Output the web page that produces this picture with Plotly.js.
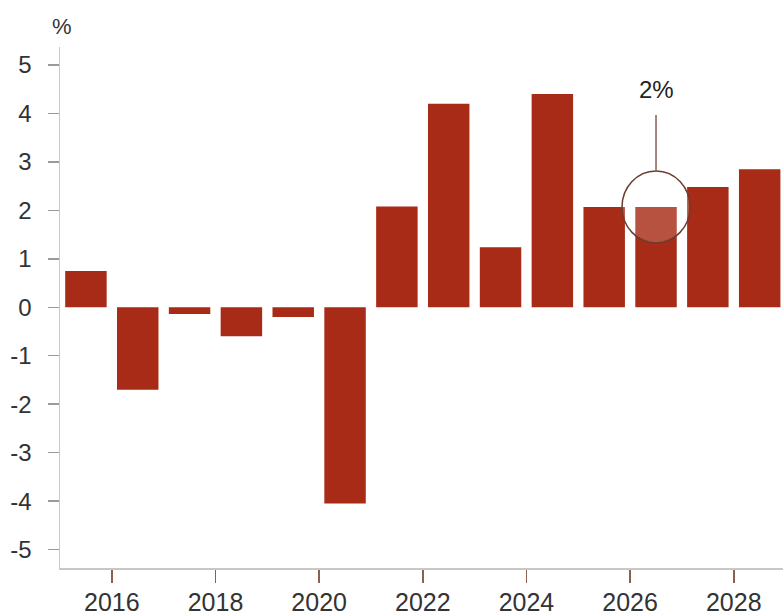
<!DOCTYPE html>
<html>
<head>
<meta charset="utf-8">
<script src="https://cdn.plot.ly/plotly-3.0.1.min.js"></script>
<style>html,body{margin:0;padding:0;background:#fff;}#chart{width:783px;height:616px;}</style>
</head>
<body>
<div id="chart"></div>
<script>
var years = [2015, 2016, 2017, 2018, 2019, 2020, 2021, 2022, 2023, 2024, 2025, 2026, 2027, 2028];
var values = [0.75, -1.7, -0.14, -0.6, -0.2, -4.05, 2.08, 4.2, 1.24, 4.4, 2.07, 2.07, 2.48, 2.85];
var tickYears = [2016, 2018, 2020, 2022, 2024, 2026, 2028];
var yTicks = [-5, -4, -3, -2, -1, 0, 1, 2, 3, 4, 5];
var highlightYear = 2026;
var highlightLabel = "2%";
var unitLabel = "%";

var xs = years.map(function (y) { return y + 0.5; });
var hIdx = years.indexOf(highlightYear);
var hx = xs[hIdx], hy = values[hIdx];

var barColor = "#a82b17";
var font = "Liberation Sans, Arial, sans-serif";

var trace = {
  type: "bar",
  x: xs,
  y: values,
  width: 0.8,
  marker: { color: barColor, line: { width: 0 } },
  hoverinfo: "x+y"
};

var layout = {
  width: 783,
  height: 616,
  margin: { l: 60, r: 0, t: 47, b: 48, pad: 0 },
  paper_bgcolor: "#fff",
  plot_bgcolor: "#fff",
  showlegend: false,
  bargap: 0.2,
  font: { family: font, size: 24, color: "#333" },
  xaxis: {
    range: [2015.0, 2028.95],
    tickvals: tickYears,
    ticktext: tickYears.map(String),
    ticks: "outside",
    ticklen: 13,
    tickwidth: 1.5,
    tickcolor: "#8c5e55",
    ticklabelstandoff: -2,
    showline: true,
    linecolor: "#c8c8c8",
    linewidth: 1.5,
    showgrid: false,
    zeroline: false,
    tickfont: { family: font, size: 25, color: "#333" },
    fixedrange: true
  },
  yaxis: {
    range: [-5.38, 5.37],
    tickvals: yTicks,
    ticktext: yTicks.map(String),
    ticks: "outside",
    ticklen: 11,
    tickwidth: 1.5,
    tickcolor: "#9a9a9a",
    ticklabelstandoff: 11,
    showline: true,
    linecolor: "#c8c8c8",
    linewidth: 1.5,
    showgrid: false,
    zeroline: false,
    tickfont: { family: font, size: 24, color: "#333" },
    fixedrange: true
  },
  shapes: [
    {
      type: "circle",
      xref: "x", yref: "y",
      xsizemode: "pixel", ysizemode: "pixel",
      xanchor: hx, yanchor: hy,
      x0: -34, x1: 34, y0: -36, y1: 36,
      line: { color: "#6e3b2c", width: 1.5 },
      fillcolor: "rgba(255,255,255,0.18)",
      layer: "above"
    },
    {
      type: "line",
      xref: "x", yref: "y",
      xsizemode: "pixel", ysizemode: "pixel",
      xanchor: hx, yanchor: hy,
      x0: 0, x1: 0, y0: 36, y1: 92,
      line: { color: "#8c5e55", width: 1.5 },
      layer: "above"
    }
  ],
  annotations: [
    {
      xref: "x", yref: "y",
      x: hx, y: hy,
      yshift: 117,
      text: highlightLabel,
      showarrow: false,
      font: { family: font, size: 24, color: "#222" }
    },
    {
      xref: "paper", yref: "paper",
      x: 0.003, y: 1,
      xanchor: "center", yanchor: "bottom",
      yshift: 6,
      text: unitLabel,
      showarrow: false,
      font: { family: font, size: 22, color: "#333" }
    }
  ]
};

Plotly.newPlot("chart", [trace], layout, { displayModeBar: false, staticPlot: true });
</script>
</body>
</html>
